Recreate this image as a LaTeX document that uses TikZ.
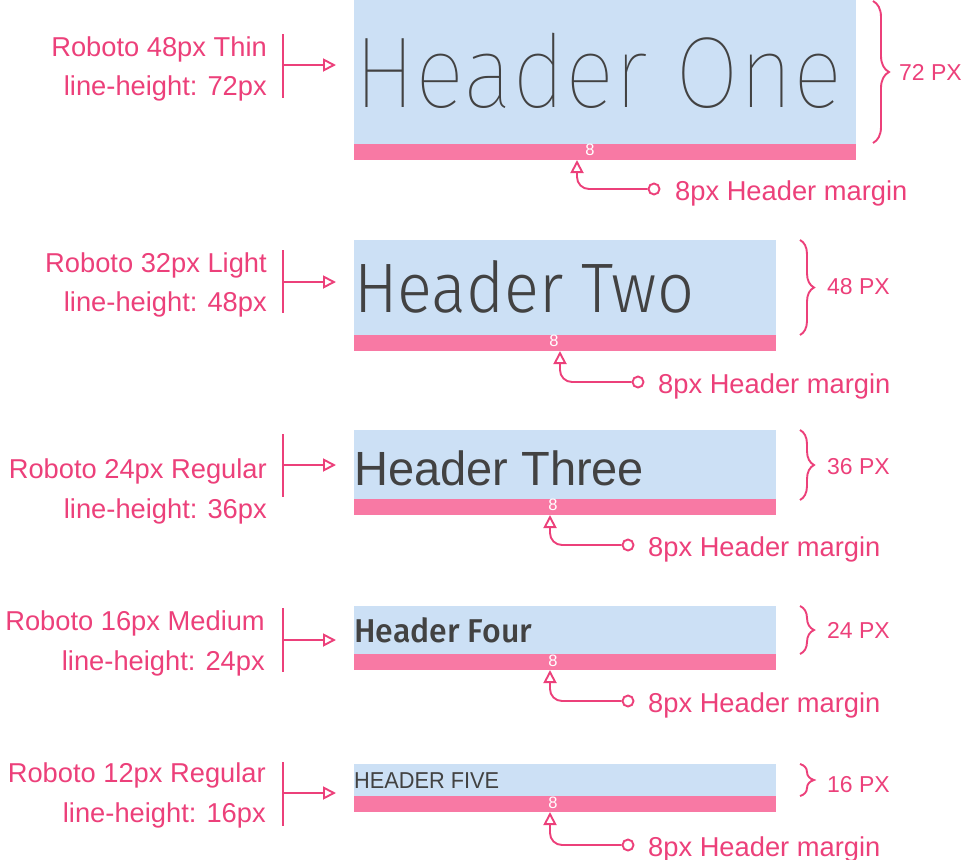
\documentclass[tikz,border=0pt]{standalone}
\usepackage{fontspec}
\setmainfont{Liberation Sans}
\IfFontExistsTF{Noto Sans Thin}{\newfontfamily\fthin{Noto Sans Thin}}{%
  \IfFontExistsTF{Fira Sans Thin}{\newfontfamily\fthin{Fira Sans Thin}}{%
    \IfFontExistsTF{Lato Thin}{\newfontfamily\fthin{Lato Thin}}{\newfontfamily\fthin{Liberation Sans}}}}
\IfFontExistsTF{Noto Sans Light}{\newfontfamily\flight{Noto Sans Light}}{%
  \IfFontExistsTF{Fira Sans Light}{\newfontfamily\flight{Fira Sans Light}}{%
    \IfFontExistsTF{Lato Light}{\newfontfamily\flight{Lato Light}}{\newfontfamily\flight{Liberation Sans}}}}
\IfFontExistsTF{Noto Sans Medium}{\newfontfamily\fmed{Noto Sans Medium}}{%
  \IfFontExistsTF{Fira Sans Medium}{\newfontfamily\fmed{Fira Sans Medium}}{%
    \newfontfamily\fmed{Liberation Sans Bold}}}
\newcommand\fitw[2]{\setbox0=\hbox{#2}\dimen0=\wd0\pgfmathsetmacro\fitr{#1/\the\dimen0}\scalebox{\fitr}[1]{\box0}}
\usetikzlibrary{arrows.meta,decorations.pathreplacing}
\definecolor{boxblue}{RGB}{204,224,245}
\definecolor{barpink}{RGB}{248,121,164}
\definecolor{mpink}{RGB}{236,64,122}
\definecolor{txtgray}{RGB}{66,66,66}
\begin{document}
\begin{tikzpicture}[x=1pt,y=-1pt,
  bluebox/.style={fill=boxblue, draw=none, inner sep=0, outer sep=0, anchor=north west},
  pinkbar/.style={fill=barpink, draw=none, inner sep=0, outer sep=0, anchor=north west, minimum height=16pt},
  hdtext/.style={text=txtgray, inner sep=0, anchor=base west},
  lbl/.style={text=mpink, inner sep=0, anchor=base east, font=\fontsize{27.3}{30}\selectfont},
  mlbl/.style={text=mpink, inner sep=0, anchor=base west, font=\fontsize{27.3}{30}\selectfont},
  pxlbl/.style={text=mpink, inner sep=0, anchor=base west, font=\fontsize{23}{26}\selectfont},
  eight/.style={text=white, inner sep=0, anchor=base, font=\fontsize{16.5}{17}\selectfont},
  pk/.style={draw=mpink, line width=1.9pt},
  arrtip/.style={-{Triangle[open, length=13pt, width=13pt]}},
  dot/.style={circle, draw=mpink, fill=white, line width=1.9pt, minimum size=11pt, inner sep=0},
  brc/.style={pk, decorate, decoration={brace, amplitude=#1}},
  brc/.default=14pt
]
\useasboundingbox (0,0) rectangle (962,860);

% ---------- Block 1 ----------
\node[bluebox, minimum width=502pt, minimum height=144pt] (b1) at (354,0) {};
\node[pinkbar, minimum width=502pt] (p1) at (354,144) {};
\node[hdtext, font=\fontsize{101}{101}\fthin] (h1) at (354,107) {\fitw{488}{Header One}};
\node[eight] (e1) at (590,155) {8};
\node[lbl] (l1a) at (267,56) {Roboto 48px Thin};
\node[lbl] (l1b) at (267,95) {line-height: 72px};
\coordinate (k1t) at (283,34); \coordinate (k1b) at (283,98);
\coordinate (k1m) at (283,65); \coordinate (k1e) at (336,65);
\draw[pk] (k1t) -- (k1b);
\draw[pk, arrtip] (k1m) -- (k1e);
\coordinate (r1t) at (873,1); \coordinate (r1b) at (873,143);
\draw[brc=16pt] (r1t) -- (r1b);
\node[pxlbl] (x1) at (899,80) {72 PX};
\node[dot] (d1) at (654,189) {};
\coordinate (t1) at (577,160);
\draw[pk, arrtip, rounded corners=12pt] (d1.west) -| (t1);
\node[mlbl] (m1) at (675,200) {8px Header margin};

% ---------- Block 2 ----------
\node[bluebox, minimum width=422pt, minimum height=95pt] (b2) at (354,240) {};
\node[pinkbar, minimum width=422pt] (p2) at (354,335) {};
\node[hdtext, font=\fontsize{70}{70}\flight] (h2) at (354,312) {\fitw{340}{Header Two}};
\node[eight] (e2) at (554,346) {8};
\node[lbl] (l2a) at (267,272) {Roboto 32px Light};
\node[lbl] (l2b) at (267,311) {line-height: 48px};
\coordinate (k2t) at (283,250); \coordinate (k2b) at (283,313);
\coordinate (k2m) at (283,282); \coordinate (k2e) at (336,282);
\draw[pk] (k2t) -- (k2b);
\draw[pk, arrtip] (k2m) -- (k2e);
\coordinate (r2t) at (800,240); \coordinate (r2b) at (800,335);
\draw[brc] (r2t) -- (r2b);
\node[pxlbl] (x2) at (827,294) {48 PX};
\node[dot] (d2) at (638,382) {};
\coordinate (t2) at (560,351);
\draw[pk, arrtip, rounded corners=12pt] (d2.west) -| (t2);
\node[mlbl] (m2) at (658,393) {8px Header margin};

% ---------- Block 3 ----------
\node[bluebox, minimum width=422pt, minimum height=69pt] (b3) at (354,430) {};
\node[pinkbar, minimum width=422pt] (p3) at (354,499) {};
\node[hdtext, font=\fontsize{48}{48}\selectfont] (h3) at (354,485) {\fitw{290}{Header Three}};
\node[eight] (e3) at (553,510) {8};
\node[lbl] (l3a) at (267,478) {Roboto 24px Regular};
\node[lbl] (l3b) at (267,518) {line-height: 36px};
\coordinate (k3t) at (283,434); \coordinate (k3b) at (283,497);
\coordinate (k3m) at (283,465); \coordinate (k3e) at (336,465);
\draw[pk] (k3t) -- (k3b);
\draw[pk, arrtip] (k3m) -- (k3e);
\coordinate (r3t) at (800,430); \coordinate (r3b) at (800,500);
\draw[brc] (r3t) -- (r3b);
\node[pxlbl] (x3) at (827,474) {36 PX};
\node[dot] (d3) at (628,545) {};
\coordinate (t3) at (550,515);
\draw[pk, arrtip, rounded corners=12pt] (d3.west) -| (t3);
\node[mlbl] (m3) at (648,556) {8px Header margin};

% ---------- Block 4 ----------
\node[bluebox, minimum width=422pt, minimum height=48pt] (b4) at (354,606) {};
\node[pinkbar, minimum width=422pt] (p4) at (354,654) {};
\node[hdtext, font=\fontsize{33}{33}\fmed] (h4) at (354,642) {\fitw{178}{Header Four}};
\node[eight] (e4) at (553,666) {8};
\node[lbl] (l4a) at (265,630) {Roboto 16px Medium};
\node[lbl] (l4b) at (265,670) {line-height: 24px};
\coordinate (k4t) at (283,608); \coordinate (k4b) at (283,672);
\coordinate (k4m) at (283,640); \coordinate (k4e) at (336,640);
\draw[pk] (k4t) -- (k4b);
\draw[pk, arrtip] (k4m) -- (k4e);
\coordinate (r4t) at (800,606); \coordinate (r4b) at (800,654);
\draw[brc] (r4t) -- (r4b);
\node[pxlbl] (x4) at (827,638) {24 PX};
\node[dot] (d4) at (628,701) {};
\coordinate (t4) at (550,670);
\draw[pk, arrtip, rounded corners=12pt] (d4.west) -| (t4);
\node[mlbl] (m4) at (648,712) {8px Header margin};

% ---------- Block 5 ----------
\node[bluebox, minimum width=422pt, minimum height=32pt] (b5) at (354,764) {};
\node[pinkbar, minimum width=422pt] (p5) at (354,796) {};
\node[hdtext, font=\fontsize{23}{23}\selectfont] (h5) at (354,788) {\fitw{145}{HEADER FIVE}};
\node[eight] (e5) at (553,808) {8};
\node[lbl] (l5a) at (266,782) {Roboto 12px Regular};
\node[lbl] (l5b) at (266,822) {line-height: 16px};
\coordinate (k5t) at (283,762); \coordinate (k5b) at (283,826);
\coordinate (k5m) at (283,793); \coordinate (k5e) at (336,793);
\draw[pk] (k5t) -- (k5b);
\draw[pk, arrtip] (k5m) -- (k5e);
\coordinate (r5t) at (800,764); \coordinate (r5b) at (800,796);
\draw[brc] (r5t) -- (r5b);
\node[pxlbl] (x5) at (827,792) {16 PX};
\node[dot] (d5) at (628,845) {};
\coordinate (t5) at (550,812);
\draw[pk, arrtip, rounded corners=12pt] (d5.west) -| (t5);
\node[mlbl] (m5) at (648,856) {8px Header margin};
\end{tikzpicture}
\end{document}
